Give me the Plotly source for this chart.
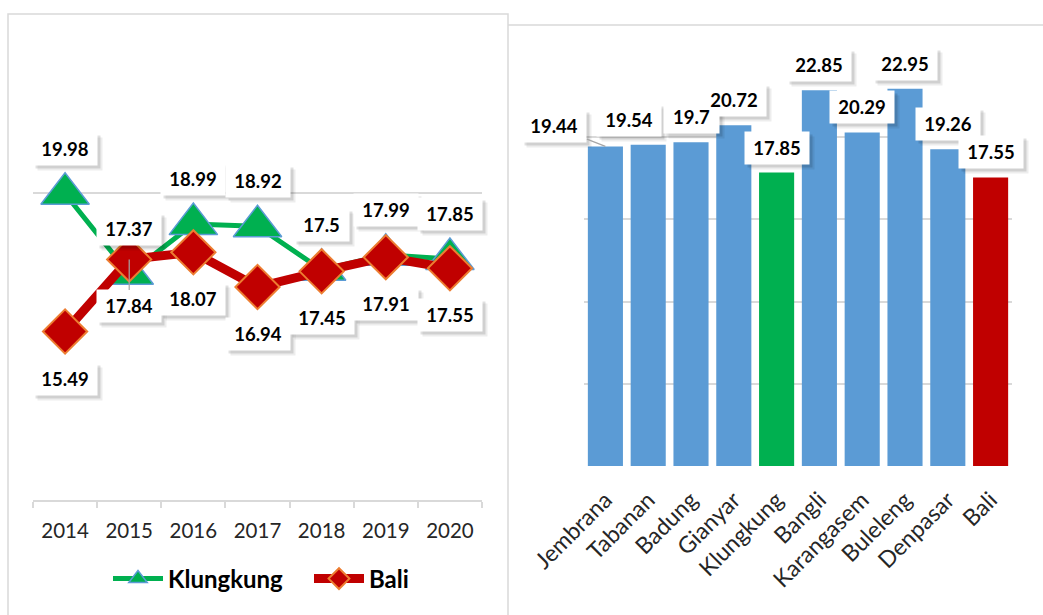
import plotly.graph_objects as go

# ---------------- data ----------------
years = ["2014", "2015", "2016", "2017", "2018", "2019", "2020"]
klungkung = [19.98, 17.37, 18.99, 18.92, 17.5, 17.99, 17.85]
bali = [15.49, 17.84, 18.07, 16.94, 17.45, 17.91, 17.55]

regions = ["Jembrana", "Tabanan", "Badung", "Gianyar", "Klungkung",
           "Bangli", "Karangasem", "Buleleng", "Denpasar", "Bali"]
region_vals = [19.44, 19.54, 19.7, 20.72, 17.85, 22.85, 20.29, 22.95, 19.26, 17.55]

BLUE = "#5B9BD5"
GREEN = "#00B050"
RED = "#C00000"
ORANGE = "#ED7D31"
GRID = "#D9D9D9"
FONT = "Lato"
W, H = 1043, 615
NB = "\u00a0"

bar_colors = [GREEN if r == "Klungkung" else RED if r == "Bali" else BLUE for r in regions]

fig = go.Figure()

fig.add_trace(go.Scatter(
    x=years, y=klungkung, name="Klungkung", mode="lines+markers",
    line=dict(color=GREEN, width=5),
    marker=dict(symbol="triangle-up", size=42, color=GREEN,
                line=dict(color=BLUE, width=1.5)),
    xaxis="x", yaxis="y", cliponaxis=False, hoverinfo="skip"))

fig.add_trace(go.Scatter(
    x=years, y=bali, name="Bali", mode="lines+markers",
    line=dict(color=RED, width=9),
    marker=dict(symbol="diamond", size=34, color=RED,
                line=dict(color=ORANGE, width=2)),
    xaxis="x", yaxis="y", cliponaxis=False, hoverinfo="skip"))

fig.add_trace(go.Bar(
    x=regions, y=region_vals, marker=dict(color=bar_colors, line=dict(width=0)),
    showlegend=False, xaxis="x2", yaxis="y2", hoverinfo="skip"))

LBL_FONT = 18.5

# collect labels: (xref, yref, x, y, value, dx, dy, arrow)
labels = []
for i, v in enumerate(klungkung):
    labels.append(("x", "y", i, v, v, 0, -45, False))
for i, v in enumerate(bali):
    labels.append(("x", "y", i, v, v, 0, 47, years[i] == "2015"))
for r, v in zip(regions, region_vals):
    if r == "Jembrana":
        labels.append(("x2", "y2", r, v, v, -51, -20, True))
    elif r == "Tabanan":
        labels.append(("x2", "y2", r, v, v, -19, -25, False))
    else:
        labels.append(("x2", "y2", r, v, v, 0, -25, False))


def common_of(lb, blank=False):
    xref, yref, x, y, val, dx, dy, arrow = lb
    txt = str(val)
    w = 56 if len(txt) >= 5 else 47
    return dict(xref=xref, yref=yref, x=x, y=y, text=NB if blank else txt,
                width=w, height=24, borderpad=4)


def fnt(color):
    return dict(family=FONT, size=LBL_FONT, color=color, weight="bold")


# pass 1: soft shadows
for lb in labels:
    dx, dy = lb[5], lb[6]
    for off, alpha in ((5, 0.07), (3, 0.12)):
        fig.add_annotation(**common_of(lb, blank=True), showarrow=False,
                           xshift=dx + off, yshift=-dy - off,
                           bgcolor=f"rgba(0,0,0,{alpha})", font=fnt("rgba(0,0,0,0)"))

# pass 2: white boxes (with leader lines)
for lb in labels:
    dx, dy, arrow = lb[5], lb[6], lb[7]
    if arrow:
        fig.add_annotation(**common_of(lb, blank=True), showarrow=True, ax=dx, ay=dy,
                           arrowhead=0, arrowwidth=1.2, arrowcolor="#A6A6A6",
                           bgcolor="white", font=fnt("rgba(0,0,0,0)"))
    else:
        fig.add_annotation(**common_of(lb, blank=True), showarrow=False,
                           xshift=dx, yshift=-dy,
                           bgcolor="white", font=fnt("rgba(0,0,0,0)"))

# pass 3: texts
for lb in labels:
    dx, dy = lb[5], lb[6]
    fig.add_annotation(**common_of(lb), showarrow=False, xshift=dx, yshift=-dy,
                       bgcolor="rgba(0,0,0,0)", font=fnt("black"))

# panel borders
fig.add_shape(type="rect", xref="paper", yref="paper",
              x0=8 / W, x1=508 / W, y0=-0.05, y1=1 - 14 / H,
              line=dict(color=GRID, width=1.5), layer="below")
fig.add_shape(type="path", xref="paper", yref="paper",
              path=f"M {508 / W},{1 - 25 / H} L 1.05,{1 - 25 / H}",
              line=dict(color=GRID, width=1.5), layer="below")

fig.update_layout(
    width=W, height=H,
    margin=dict(l=0, r=0, t=0, b=0, autoexpand=False),
    paper_bgcolor="white", plot_bgcolor="white",
    font=dict(family=FONT, color="#404040"),
    bargap=0.18,
    showlegend=True,
    legend=dict(orientation="h", x=108 / W, xanchor="left", y=1 - 579 / H,
                yanchor="middle", font=dict(family=FONT, size=24, color="black", weight="bold"),
                bgcolor="rgba(0,0,0,0)", itemwidth=50, entrywidth=136,
                entrywidthmode="pixels"),
    xaxis=dict(domain=[33 / W, 482 / W], type="category", range=[-0.5, 6.5],
               showline=True, linecolor=GRID, linewidth=1.5,
               ticks="outside", tickson="boundaries", ticklen=6, tickcolor=GRID,
               tickwidth=1.5, showgrid=False, ticklabelstandoff=12,
               tickfont=dict(family=FONT, size=20.5, color="#262626"),
               anchor="y", fixedrange=True),
    yaxis=dict(domain=[1 - 500 / H, 1 - 162.4 / H], range=[10, 21], dtick=10, tick0=0,
               showgrid=True, gridcolor=GRID, gridwidth=1.5, zeroline=False,
               showticklabels=False, anchor="x", fixedrange=True),
    xaxis2=dict(domain=[584 / W, 1012 / W], type="category", range=[-0.5, 9.5],
                showline=False, ticks="", showgrid=False, tickangle=-45,
                ticklabelstandoff=15,
                tickfont=dict(family=FONT, size=23, color="#262626"),
                anchor="y2", fixedrange=True),
    yaxis2=dict(domain=[1 - 466 / H, 1 - 55 / H], range=[0, 25], dtick=5,
                showgrid=True, gridcolor=GRID, gridwidth=1.5, zeroline=False,
                showticklabels=False, anchor="x2", fixedrange=True),
)

fig.write_html("out.html")
